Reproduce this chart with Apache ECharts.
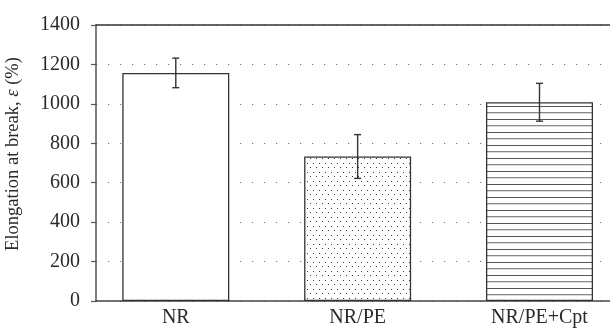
<!DOCTYPE html>
<html>
<head>
<meta charset="utf-8">
<script src="https://cdn.jsdelivr.net/npm/echarts@6/dist/echarts.min.js"></script>
<style>html,body{margin:0;padding:0;background:#fff;}#c{width:610px;height:328px;}</style>
</head>
<body>
<div id="c"></div>
<script>
// ---- data ----
var categories = ['NR', 'NR/PE', 'NR/PE+Cpt'];
var means = [1157, 733, 1008];
var errors = [75, 111, 96];
var yTickMin = 0, yTickMax = 1400, yTickStep = 200;

// ---- patterns ----
function dotPattern() {
  var c = document.createElement('canvas'); c.width = 6; c.height = 9;
  var g = c.getContext('2d');
  g.fillStyle = '#fff'; g.fillRect(0, 0, 6, 9);
  g.fillStyle = '#3a3a3a';
  g.fillRect(1, 1, 1, 1);
  g.fillRect(4, 5, 1, 1);
  return c;
}
function hatchPattern() {
  var c = document.createElement('canvas'); c.width = 4; c.height = 13;
  var g = c.getContext('2d');
  g.fillStyle = '#fff'; g.fillRect(0, 0, 4, 13);
  g.fillStyle = '#555'; g.fillRect(0, 2, 4, 1);
  g.fillStyle = '#888'; g.fillRect(0, 8, 4, 1.3);
  return c;
}
var fills = ['#ffffff', {image: dotPattern(), repeat: 'repeat'}, {image: hatchPattern(), repeat: 'repeat'}];

var barData = means.map(function (v, i) {
  return {value: [i + 1, v], itemStyle: {color: fills[i]}};
});
var errData = means.map(function (v, i) {
  return [i + 1, v - errors[i], v + errors[i]];
});

var font = '"Liberation Serif", "DejaVu Serif", serif';
var xMin = 0.5612, pxPerCat = 181.85, gridW = 519;
var xMax = xMin + gridW / pxPerCat;

var chart = echarts.init(document.getElementById('c'), null, {renderer: 'canvas'});
chart.setOption({
  animation: false,
  backgroundColor: '#fff',
  grid: {left: 96, right: -5, top: 25, bottom: 27, containLabel: false, outerBoundsMode: 'none'},
  xAxis: [{
    type: 'value', min: xMin, max: xMax,
    axisLine: {show: true, lineStyle: {color: '#444', width: 1.5}},
    axisTick: {show: false},
    splitLine: {show: false},
    axisLabel: {
      customValues: [1, 2, 3],
      formatter: function (v) { return categories[Math.round(v) - 1] || ''; },
      color: '#2a2a2a', fontFamily: font, fontSize: 20, margin: 7
    }
  }, {
    type: 'value', min: xMin, max: xMax, position: 'top',
    axisLine: {show: true, lineStyle: {color: '#333', width: 1.5}},
    axisTick: {show: false}, axisLabel: {show: false}, splitLine: {show: false}
  }],
  yAxis: {
    type: 'value', min: yTickMin, max: yTickMax, interval: yTickStep,
    name: '{n|Elongation at break, }{i|ε}{n| (%)}',
    nameLocation: 'middle', nameGap: 73, nameRotate: 90,
    nameTextStyle: {
      padding: [0, 0, 0, 18],
      rich: {
        n: {fontFamily: font, fontSize: 18.5, color: '#2a2a2a'},
        i: {fontFamily: font, fontSize: 18.5, fontStyle: 'italic', color: '#2a2a2a'}
      }
    },
    axisLine: {show: true, lineStyle: {color: '#555', width: 1.5}},
    axisTick: {show: true, length: 5, lineStyle: {color: '#555', width: 1.2}},
    axisLabel: {
      color: '#2a2a2a', fontFamily: font, fontSize: 20, margin: 16,
      formatter: function (v) { return String(v); }
    },
    splitLine: {show: true, lineStyle: {color: '#777', width: 1, type: [1.2, 10.8]}}
  },
  series: [{
    type: 'bar', data: barData, barWidth: 107, xAxisIndex: 0,
    itemStyle: {borderColor: '#333', borderWidth: 1.3},
    z: 2
  }, {
    type: 'custom', data: errData, xAxisIndex: 0, z: 5,
    renderItem: function (params, api) {
      var x = api.value(0);
      var lo = api.coord([x, api.value(1)]);
      var hi = api.coord([x, api.value(2)]);
      var w = 3.5;
      var st = {stroke: '#333', lineWidth: 1.4};
      return {type: 'group', children: [
        {type: 'line', shape: {x1: lo[0], y1: lo[1], x2: hi[0], y2: hi[1]}, style: st},
        {type: 'line', shape: {x1: lo[0] - w, y1: lo[1], x2: lo[0] + w, y2: lo[1]}, style: st},
        {type: 'line', shape: {x1: hi[0] - w, y1: hi[1], x2: hi[0] + w, y2: hi[1]}, style: st}
      ]};
    }
  }]
});
</script>
</body>
</html>
